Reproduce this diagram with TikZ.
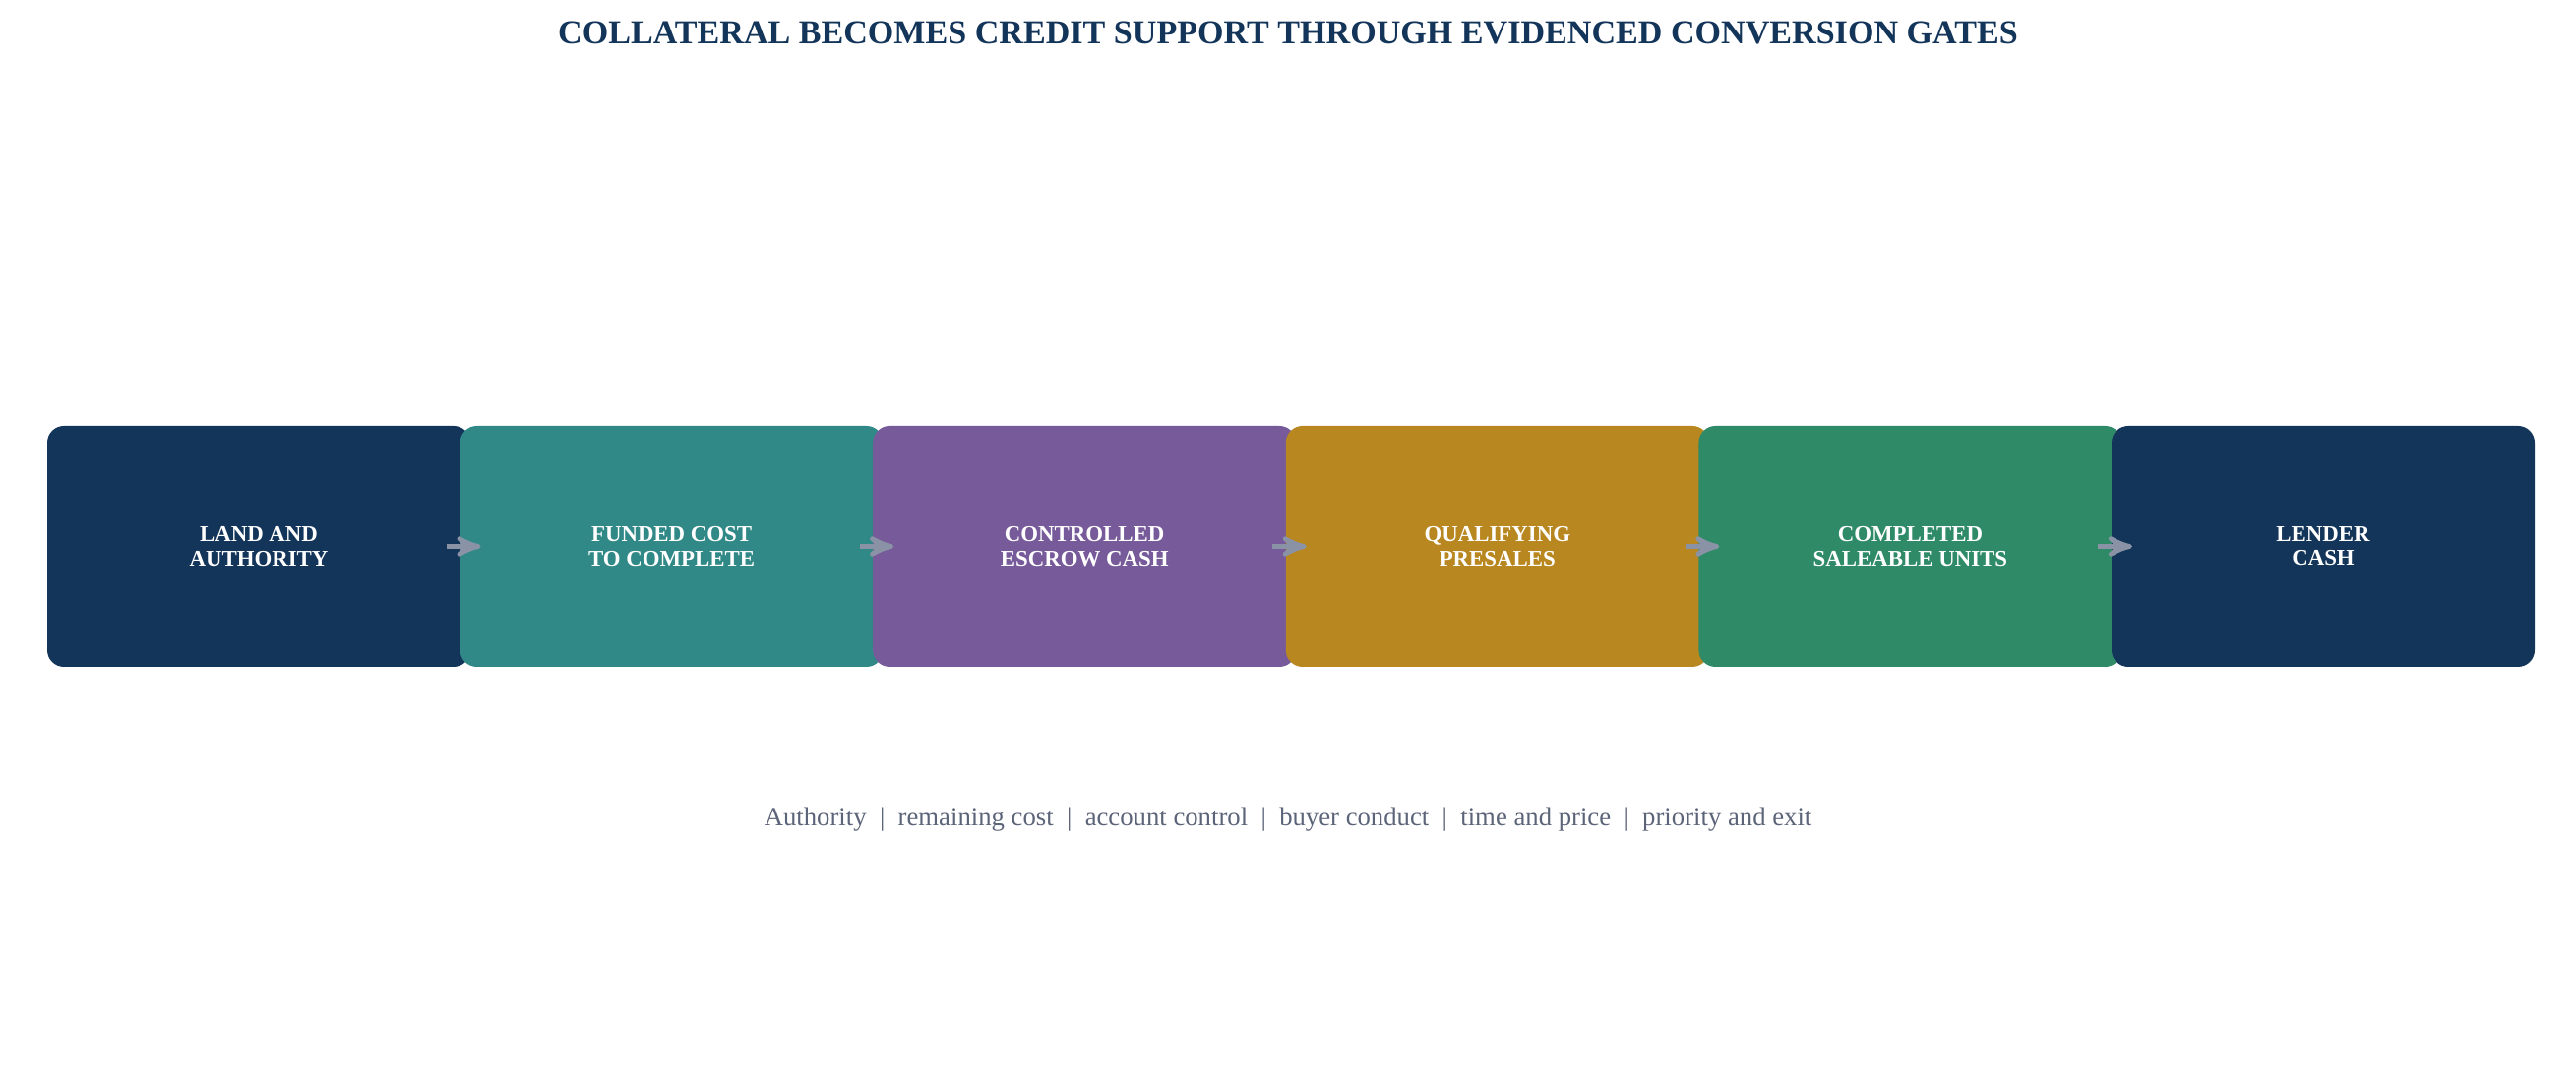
\documentclass[tikz,border=0pt]{standalone}
\usepackage{fontspec}
\setmainfont{Liberation Serif}
\usepackage{tikz}
\usetikzlibrary{arrows,positioning}
\definecolor{navyGate}{HTML}{13355A}
\definecolor{tealGate}{HTML}{318987}
\definecolor{purpleGate}{HTML}{765A9A}
\definecolor{ochreGate}{HTML}{B88720}
\definecolor{greenGate}{HTML}{2F8A68}
\definecolor{arrowGray}{HTML}{8A93A5}
\definecolor{noteGray}{HTML}{5B6478}
\newcommand{\gateSep}{~~|~~}

\begin{document}
\begin{tikzpicture}[>=stealth', node distance=4.196cm, semithick]
        \tikzset{
           gate/.style={
                        rectangle,
                        rounded corners=0.17cm,
                        draw=none,
                        minimum width=4.3cm,
                        minimum height=2.45cm,
                        text=white,
                        align=center,
                        font=\fontsize{6.5}{6.9}\selectfont\bfseries
                       },
           title/.style={
                        text=navyGate,
                        font=\fontsize{9.7}{11}\selectfont\bfseries
                       },
           note/.style={
                        text=noteGray,
                        font=\fontsize{7.6}{9}\selectfont
                       },
           flow/.style={
                        ->,
                        color=arrowGray,
                        line width=1.35pt
                       },
                 };
        \useasboundingbox (0,0) rectangle (26.18,11);
    %--------------------
        \node[title]                (heading)   at (13.09,10.67) {COLLATERAL BECOMES CREDIT SUPPORT THROUGH EVIDENCED CONVERSION GATES};

        \node[gate,fill=navyGate]   (land)      at (2.63,5.445)  {LAND AND\\AUTHORITY};
        \node[gate,fill=tealGate]   (funded)    [right of=land]   {FUNDED COST\\TO COMPLETE};
        \node[gate,fill=purpleGate] (escrow)    [right of=funded] {CONTROLLED\\ESCROW CASH};
        \node[gate,fill=ochreGate]  (presales)  [right of=escrow] {QUALIFYING\\PRESALES};
        \node[gate,fill=greenGate]  (units)     [right of=presales] {COMPLETED\\SALEABLE UNITS};
        \node[gate,fill=navyGate]   (lender)    [right of=units]  {LENDER\\CASH};

        \node[note]                 (checks)    at (13.09,2.67)
              {Authority\gateSep remaining cost\gateSep account control\gateSep buyer conduct\gateSep time and price\gateSep priority and exit};
    %--------------------
        \draw[flow] ([xshift=-0.25cm]land.east)     -- ([xshift=0.22cm]funded.west);
        \draw[flow] ([xshift=-0.25cm]funded.east)   -- ([xshift=0.22cm]escrow.west);
        \draw[flow] ([xshift=-0.25cm]escrow.east)   -- ([xshift=0.22cm]presales.west);
        \draw[flow] ([xshift=-0.25cm]presales.east) -- ([xshift=0.22cm]units.west);
        \draw[flow] ([xshift=-0.25cm]units.east)    -- ([xshift=0.22cm]lender.west);
    \end{tikzpicture}
\end{document}
